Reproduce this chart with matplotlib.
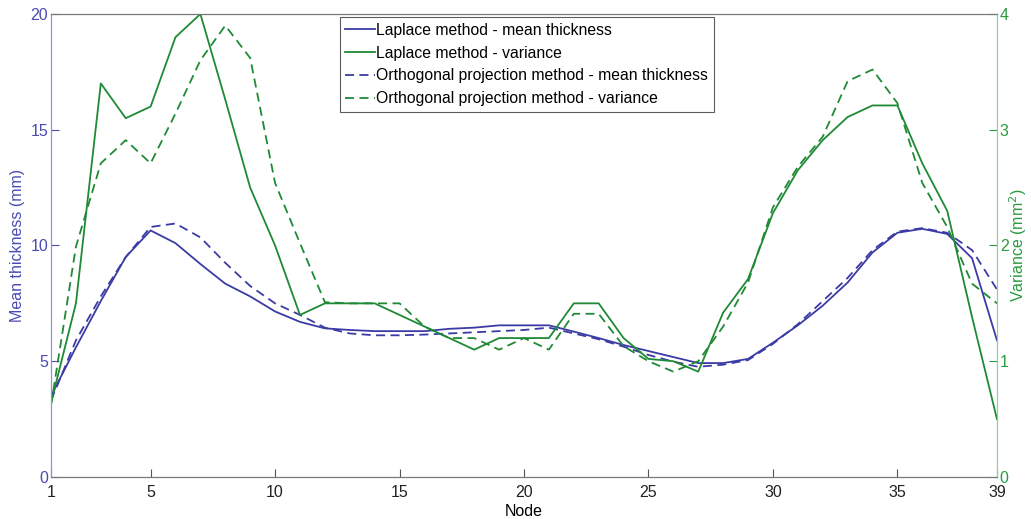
import numpy as np
import matplotlib
matplotlib.use("Agg")
import matplotlib.pyplot as plt

plt.rcParams['font.family'] = ['Liberation Sans', 'DejaVu Sans']

nodes = np.arange(1, 40)

# mean thickness (mm), left axis
lap_mean = [3.5, 5.6, 7.6, 9.5, 10.65, 10.1, 9.2, 8.35, 7.8, 7.15, 6.7, 6.42,
            6.35, 6.3, 6.3, 6.3, 6.4, 6.45, 6.55, 6.55, 6.55, 6.28, 6.0, 5.7,
            5.44, 5.18, 4.92, 4.92, 5.1, 5.8, 6.55, 7.4, 8.4, 9.7, 10.55, 10.72,
            10.5, 9.45, 5.9]
orth_mean = [3.3, 5.9, 7.8, 9.5, 10.8, 10.95, 10.35, 9.25, 8.25, 7.5, 7.0, 6.45,
             6.2, 6.12, 6.12, 6.15, 6.2, 6.25, 6.3, 6.35, 6.45, 6.2, 5.95, 5.63,
             5.27, 4.98, 4.76, 4.85, 5.05, 5.75, 6.6, 7.6, 8.6, 9.8, 10.6, 10.75,
             10.55, 9.8, 8.1]

# variance (mm^2), right axis
lap_var = [0.64, 1.5, 3.4, 3.1, 3.2, 3.8, 4.0, 3.26, 2.5, 2.0, 1.4, 1.5,
           1.5, 1.5, 1.4, 1.3, 1.2, 1.1, 1.2, 1.2, 1.2, 1.5, 1.5, 1.2,
           1.02, 1.0, 0.91, 1.42, 1.71, 2.28, 2.65, 2.91, 3.11, 3.21, 3.21, 2.71,
           2.3, 1.38, 0.5]
orth_var = [0.62, 1.99, 2.71, 2.91, 2.71, 3.14, 3.6, 3.9, 3.62, 2.54, 2.02, 1.51,
            1.5, 1.5, 1.5, 1.3, 1.2, 1.2, 1.1, 1.2, 1.1, 1.41, 1.41, 1.13,
            1.0, 0.91, 1.0, 1.3, 1.68, 2.33, 2.68, 2.94, 3.42, 3.52, 3.23, 2.54,
            2.16, 1.67, 1.5]

blue = '#3b3ba6'
green = '#1f8a35'
blue_txt = '#4a4ab4'
green_txt = '#2a9a40'

fig = plt.figure(figsize=(10.31, 5.19), dpi=100)
ax1 = fig.add_axes([0.0495, 0.081, 0.9175, 0.892])
ax2 = ax1.twinx()

l1, = ax1.plot(nodes, lap_mean, color=blue, lw=1.3, ls='-')
l3, = ax1.plot(nodes, orth_mean, color=blue, lw=1.3, ls=(0, (5, 3)))
l2, = ax2.plot(nodes, lap_var, color=green, lw=1.3, ls='-')
l4, = ax2.plot(nodes, orth_var, color=green, lw=1.3, ls=(0, (5, 3)))

ax1.set_xlim(1, 39)
ax1.set_ylim(0, 20)
ax2.set_ylim(0, 4)
ax1.set_xticks([1, 5, 10, 15, 20, 25, 30, 35, 39])
ax1.set_yticks([0, 5, 10, 15, 20])
ax2.set_yticks([0, 1, 2, 3, 4])

ax1.tick_params(axis='x', direction='in', length=6, colors='#555555',
                labelcolor='#222222', labelsize=11.5, pad=6)
ax1.tick_params(axis='y', direction='in', length=6, colors=blue_txt,
                labelsize=11.5, pad=2)
ax2.tick_params(axis='y', direction='in', length=6, colors=green_txt,
                labelsize=11.5, pad=2)

for ax in (ax1, ax2):
    ax.spines['top'].set_color('#777777')
    ax.spines['bottom'].set_color('#777777')
    ax.spines['left'].set_color('#8f8fdc')
    ax.spines['right'].set_color('#8fd09c')

ax1.set_xlabel('Node', fontsize=11.5, labelpad=3)
ax1.set_ylabel('Mean thickness (mm)', color=blue_txt, fontsize=11.5, labelpad=4)
ax2.set_ylabel('Variance (mm$^2$)', color=green_txt, fontsize=11.5, labelpad=-1)

leg = ax2.legend([l1, l2, l3, l4],
                 ['Laplace method - mean thickness', 'Laplace method - variance',
                  'Orthogonal projection method - mean thickness',
                  'Orthogonal projection method - variance'],
                 loc='upper left', bbox_to_anchor=(0.305, 0.993), fontsize=11.3,
                 frameon=True, fancybox=False, handlelength=1.9,
                 handletextpad=0.1, borderpad=0.35, labelspacing=0.5,
                 borderaxespad=0.0)
leg.get_frame().set_edgecolor('#333333')
leg.get_frame().set_linewidth(0.8)

fig.savefig('out.png', dpi=100)
